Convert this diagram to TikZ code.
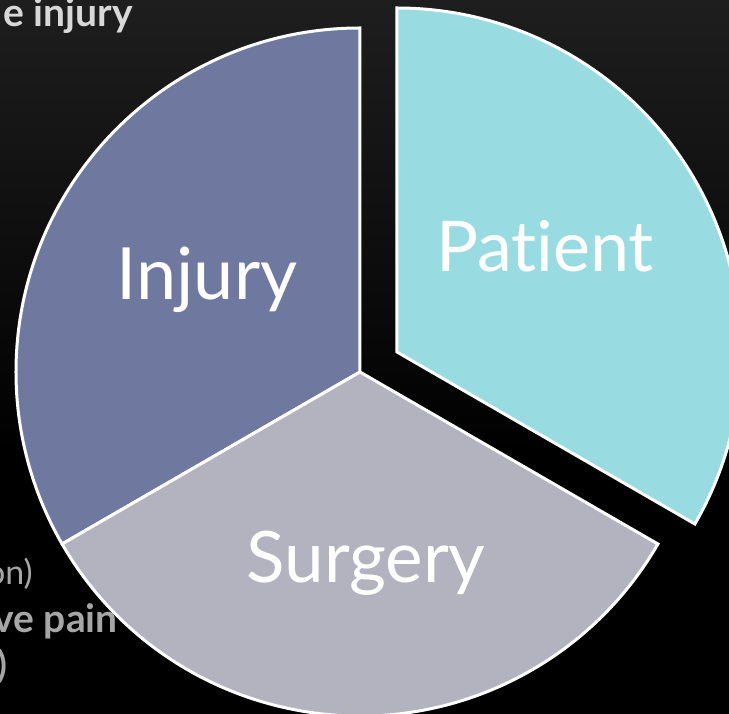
\documentclass[tikz,border=0pt]{standalone}
\usepackage{fontspec}
\setmainfont{Lato}[Ligatures=NoCommon]
\usepackage{tikz}
\usetikzlibrary{positioning,calc}
\usepackage{xcolor}

\definecolor{bgtop}{HTML}{1E1E1E}
\definecolor{injurycol}{HTML}{6F79A0}
\definecolor{patientcol}{HTML}{98DCE2}
\definecolor{surgerycol}{HTML}{B3B3BF}
\definecolor{textlight}{HTML}{D8D8D8}
\definecolor{textdim}{HTML}{A6A6A6}

\newcommand{\pieR}{344pt}

\begin{document}
\begin{tikzpicture}[x=1pt,y=1pt,
  wedge/.style={draw=white,line width=3pt,line join=miter},
  bigLabel/.style={text=white,anchor=base,inner sep=0pt,font=\fontsize{72}{78}\selectfont},
  backText/.style={anchor=base east,inner sep=0pt,font=\fontsize{34}{38}\selectfont}]
\useasboundingbox (-360,-342) rectangle (369,372);
\shade[top color=bgtop,bottom color=black] (-360,372) rectangle (369,-80);
\fill[black] (-360,-80) rectangle (369,-342);
\node[backText,text=textlight,font=\fontsize{39}{42}\selectfont\bfseries] (topLine) at (-227,345) {e injury};
\node[backText,text=textdim] (lineOn) at (-327,-213) {on)};
\node[backText,text=textdim,font=\fontsize{39}{42}\selectfont\bfseries] (linePain) at (-242,-261) {ve pain};
\node[backText,text=textdim,font=\fontsize{36}{40}\selectfont\bfseries] (lineParen) at (-352,-306) {)};
\filldraw[wedge,fill=injurycol] (0,0) -- (90:\pieR) arc (90:210:\pieR) -- cycle;
\filldraw[wedge,fill=surgerycol] (0,0) -- (210:\pieR) arc (210:330:\pieR) -- cycle;
\filldraw[wedge,fill=patientcol] (37,20) -- ++(-30:\pieR) arc (-30:90:\pieR) -- cycle;
\node[bigLabel] (injury) at (-153,72) {Injury};
\node[bigLabel,font=\fontsize{70}{76}\selectfont] (patient) at (185,100) {Patient};
\node[bigLabel,font=\fontsize{71}{76}\selectfont] (surgery) at (6,-211) {Surgery};
\end{tikzpicture}
\end{document}
